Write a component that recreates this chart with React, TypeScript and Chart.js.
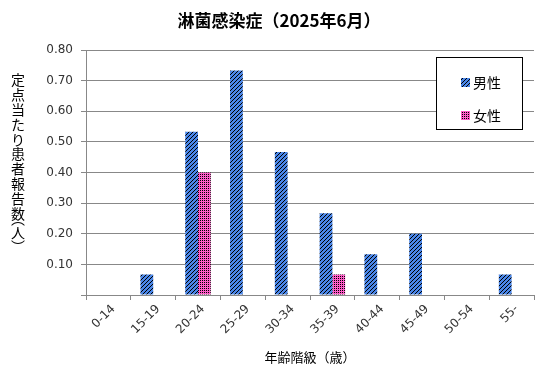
import React, { useEffect, useRef } from "react";
import { Chart, registerables } from "chart.js";

Chart.register(...registerables);

const categories = ["0-14", "15-19", "20-24", "25-29", "30-34", "35-39", "40-44", "45-49", "50-54", "55-"];
const maleValues = [0, 0.067, 0.533, 0.733, 0.467, 0.267, 0.133, 0.2, 0, 0.067];
const femaleValues = [0, 0, 0.4, 0, 0, 0.067, 0, 0, 0, 0];
const seriesNames = ["男性", "女性"];
const titleText = "淋菌感染症（2025年6月）";
const xTitle = "年齢階級（歳）";
const yTitleMain = ["定", "点", "当", "た", "り", "患", "者", "報", "告", "数"];
const yTitleTail = ["︵", "人", "︶"];

const MALE_BG = [74, 134, 232];
const FEMALE_BG = [255, 92, 200];
const JP = "'Noto Sans CJK JP', sans-serif";
const LAT = "'DejaVu Sans', 'Noto Sans CJK JP', sans-serif";

function makePattern(kind: "stripe" | "dot"): CanvasPattern | string {
  const c = document.createElement("canvas");
  const n = 4;
  c.width = n;
  c.height = n;
  const ctx = c.getContext("2d");
  if (!ctx) return "#4a86e8";
  const img = ctx.createImageData(n, n);
  for (let y = 0; y < n; y++) {
    for (let x = 0; x < n; x++) {
      let dark = false;
      let bg = MALE_BG;
      if (kind === "stripe") {
        dark = (x + y) % 4 === 0;
      } else {
        bg = FEMALE_BG;
        dark = x % 2 === 0 && y % 2 === 0;
      }
      const i = (y * n + x) * 4;
      const col = dark ? [0, 0, 0] : bg;
      img.data[i] = col[0];
      img.data[i + 1] = col[1];
      img.data[i + 2] = col[2];
      img.data[i + 3] = 255;
    }
  }
  ctx.putImageData(img, 0, 0);
  const p = ctx.createPattern(c, "repeat");
  return p || "#4a86e8";
}

export default function App() {
  const ref = useRef<HTMLCanvasElement | null>(null);
  useEffect(() => {
    if (!ref.current) return;
    const malePat = makePattern("stripe");
    const femalePat = makePattern("dot");

    const decor = {
      id: "decor",
      afterDraw(chart: any) {
        const ctx = chart.ctx as CanvasRenderingContext2D;
        ctx.save();
        // title
        ctx.fillStyle = "#000";
        ctx.font = `bold 17px ${JP}`;
        ctx.textAlign = "center";
        ctx.textBaseline = "middle";
        ctx.fillText(titleText, 279, 21);
        // x title
        ctx.font = `13px ${JP}`;
        ctx.fillText(xTitle, 310, 357);
        // y title vertical
        ctx.font = `14px ${JP}`;
        yTitleMain.forEach((ch, i) => {
          ctx.fillText(ch, 18, 80 + i * 14.8);
        });
        const tailY = [219, 233, 247];
        yTitleTail.forEach((ch, i) => {
          ctx.fillText(ch, 18, tailY[i]);
        });
        // legend
        const lx = 436.5, ly = 57.5, lw = 86, lh = 72;
        ctx.fillStyle = "#fff";
        ctx.fillRect(lx, ly, lw, lh);
        ctx.strokeStyle = "#000";
        ctx.lineWidth = 1;
        ctx.strokeRect(lx, ly, lw, lh);
        const items = [
          { p: malePat, t: seriesNames[0], y: 82 },
          { p: femalePat, t: seriesNames[1], y: 115 },
        ];
        items.forEach((it) => {
          ctx.fillStyle = it.p as any;
          ctx.fillRect(461, it.y - 4, 9, 9);
          ctx.fillStyle = "#000";
          ctx.font = `14px ${JP}`;
          ctx.textAlign = "left";
          ctx.textBaseline = "middle";
          ctx.fillText(it.t, 473, it.y + 1);
        });
        ctx.restore();
      },
    };

    const chart = new Chart(ref.current, {
      type: "bar",
      data: {
        labels: categories,
        datasets: [
          { label: seriesNames[0], data: maleValues, backgroundColor: malePat as any, borderWidth: 0 },
          { label: seriesNames[1], data: femaleValues, backgroundColor: femalePat as any, borderWidth: 0 },
        ],
      },
      options: {
        responsive: false,
        animation: false,
        events: [],
        layout: { padding: { top: 50, right: 15, left: 0, bottom: 0 } },
        datasets: { bar: { categoryPercentage: 0.57, barPercentage: 1 } },
        plugins: { legend: { display: false }, title: { display: false }, tooltip: { enabled: false } },
        scales: {
          x: {
            offset: true,
            grid: { display: true, drawOnChartArea: false, offset: true, tickLength: 5, color: "#888" },
            border: { color: "#888" },
            ticks: {
              maxRotation: 45,
              minRotation: 45,
              padding: 2,
              labelOffset: 5,
              color: "#333",
              font: { family: LAT, size: 12 },
              autoSkip: false,
            },
            afterFit(scale: any) {
              scale.height = 85;
            },
          },
          y: {
            min: 0,
            max: 0.8,
            grid: { color: "#888", tickLength: 5 },
            border: { color: "#888" },
            ticks: {
              stepSize: 0.1,
              padding: 8,
              color: "#333",
              font: { family: LAT, size: 12 },
              callback: (v: any) => (Math.abs(Number(v)) < 1e-9 ? "" : Number(v).toFixed(2)),
            },
            afterFit(scale: any) {
              scale.width = 86;
            },
          },
        },
      },
      plugins: [decor],
    });
    return () => chart.destroy();
  }, []);
  return (
    <div style={{ position: "absolute", left: 0, top: 0, width: 549, height: 380, background: "#fff" }}>
      <canvas ref={ref} width={549} height={380} style={{ width: 549, height: 380, display: "block" }} />
    </div>
  );
}
